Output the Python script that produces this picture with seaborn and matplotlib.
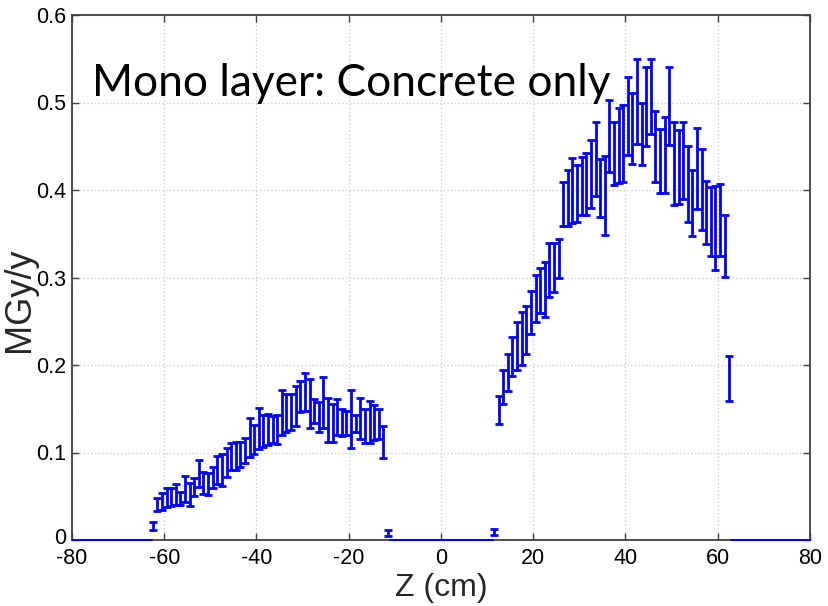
import numpy as np
import matplotlib
matplotlib.use("Agg")
import matplotlib.pyplot as plt
import matplotlib.transforms as mtransforms
import seaborn as sns

# Bin centres along the beam axis (1 cm bins)
z_cm = np.arange(-79.5, 80.0, 1.0)

# Dose rate band per bin (lower / upper end of the error bar), MGy/y
dose_low = [
    0, 0, 0, 0, 0, 0, 0, 0, 0, 0, 0, 0, 0, 0, 0, 0, 0,
    0.012,
    0.033, 0.034, 0.038, 0.039, 0.040, 0.040, 0.044, 0.039, 0.050, 0.061,
    0.053, 0.052, 0.060, 0.064, 0.062, 0.072, 0.080, 0.080, 0.084, 0.088,
    0.095, 0.098, 0.104, 0.106, 0.109, 0.111, 0.110, 0.120, 0.123, 0.126,
    0.130, 0.146, 0.147, 0.128, 0.134, 0.124, 0.128, 0.112, 0.112, 0.120,
    0.119, 0.120, 0.105, 0.124, 0.116, 0.111, 0.111, 0.114, 0.115, 0.094,
    0.005,
    0, 0, 0, 0, 0, 0, 0, 0, 0, 0, 0, 0, 0, 0, 0, 0, 0, 0, 0, 0, 0, 0,
    0.006,
    0.133, 0.156, 0.170, 0.188, 0.194, 0.200, 0.213, 0.235, 0.249, 0.259,
    0.255, 0.278, 0.283, 0.300, 0.359, 0.359, 0.362, 0.363, 0.372, 0.372,
    0.380, 0.393, 0.369, 0.349, 0.421, 0.406, 0.408, 0.409, 0.440, 0.430,
    0.453, 0.428, 0.450, 0.464, 0.409, 0.397, 0.397, 0.451, 0.383, 0.384,
    0.390, 0.363, 0.348, 0.378, 0.354, 0.338, 0.325, 0.309, 0.325, 0.300,
    0.159,
    0, 0, 0, 0, 0, 0, 0, 0, 0, 0, 0, 0, 0, 0, 0, 0, 0,
]
dose_high = [
    0, 0, 0, 0, 0, 0, 0, 0, 0, 0, 0, 0, 0, 0, 0, 0, 0,
    0.021,
    0.048, 0.054, 0.060, 0.059, 0.064, 0.055, 0.073, 0.065, 0.071, 0.091,
    0.078, 0.077, 0.083, 0.096, 0.098, 0.105, 0.111, 0.1125, 0.112, 0.117,
    0.139, 0.131, 0.151, 0.143, 0.144, 0.142, 0.143, 0.171, 0.167, 0.167,
    0.176, 0.182, 0.191, 0.184, 0.161, 0.158, 0.186, 0.162, 0.156, 0.161,
    0.150, 0.147, 0.171, 0.143, 0.162, 0.150, 0.159, 0.154, 0.150, 0.130,
    0.011,
    0, 0, 0, 0, 0, 0, 0, 0, 0, 0, 0, 0, 0, 0, 0, 0, 0, 0, 0, 0, 0, 0,
    0.013,
    0.165, 0.194, 0.213, 0.232, 0.249, 0.261, 0.267, 0.285, 0.303, 0.311,
    0.318, 0.339, 0.339, 0.344, 0.409, 0.423, 0.437, 0.429, 0.438, 0.442,
    0.457, 0.478, 0.435, 0.439, 0.503, 0.478, 0.494, 0.497, 0.529, 0.511,
    0.550, 0.499, 0.540, 0.550, 0.490, 0.470, 0.484, 0.540, 0.478, 0.469,
    0.478, 0.450, 0.423, 0.471, 0.447, 0.410, 0.404, 0.405, 0.407, 0.371,
    0.2105,
    0, 0, 0, 0, 0, 0, 0, 0, 0, 0, 0, 0, 0, 0, 0, 0, 0,
]

x_ticks = [-80, -60, -40, -20, 0, 20, 40, 60, 80]
y_ticks = [0, 0.1, 0.2, 0.3, 0.4, 0.5, 0.6]
y_tick_labels = ["0", "0.1", "0.2", "0.3", "0.4", "0.5", "0.6"]
title_text = "Mono layer: Concrete only"

sns.set_theme(style="ticks")
plt.rcParams["font.family"] = ["Liberation Sans", "DejaVu Sans"]
plt.rcParams["axes.unicode_minus"] = False

low = np.asarray(dose_low)
high = np.asarray(dose_high)
centre = (low + high) / 2
half = (high - low) / 2

fig = plt.figure(figsize=(8.29, 6.06), dpi=100)
ax = fig.add_axes([72 / 829, 1 - 540 / 606, (810 - 72) / 829, (540 - 15) / 606])

ax.errorbar(z_cm, centre, yerr=half, fmt="none", ecolor="#0000ff",
            elinewidth=2.0, capsize=2.6, capthick=2.0, zorder=3)

ax.set_xlim(-80, 80)
ax.set_ylim(0, 0.6)
ax.set_xticks(x_ticks)
ax.set_yticks(y_ticks)
ax.set_yticklabels(y_tick_labels)
ax.grid(True, linestyle=(0, (1, 2)), color="#c8c8c8", linewidth=0.9)
ax.tick_params(direction="in", length=5, width=1.0, top=True, right=True,
               labelsize=15.5, colors="#404040", labelcolor="black")
ax.tick_params(axis="x", pad=5.5)
ax.tick_params(axis="y", pad=4)
for s in ax.spines.values():
    s.set_color("#404040")
    s.set_linewidth(1.3)
    s.set_visible(True)

# lift the "0" label on the y axis slightly so it sits clear of "-80"
zero_label = ax.get_yticklabels()[0]
zero_label.set_transform(zero_label.get_transform()
                         + mtransforms.ScaledTranslation(0, 3 / 72, fig.dpi_scale_trans))

ax.set_xlabel("Z (cm)", fontsize=23)
ax.xaxis.set_label_coords(0.5, -0.063)
ax.set_ylabel("MGy/y", fontsize=26)
ax.yaxis.set_label_coords(-0.047, 0.457)

ax.text(-75.7, 0.507, title_text, fontsize=31.9, family=["Lato", "DejaVu Sans"],
        ha="left", va="baseline", color="black")

fig.savefig("out.png", dpi=100)
